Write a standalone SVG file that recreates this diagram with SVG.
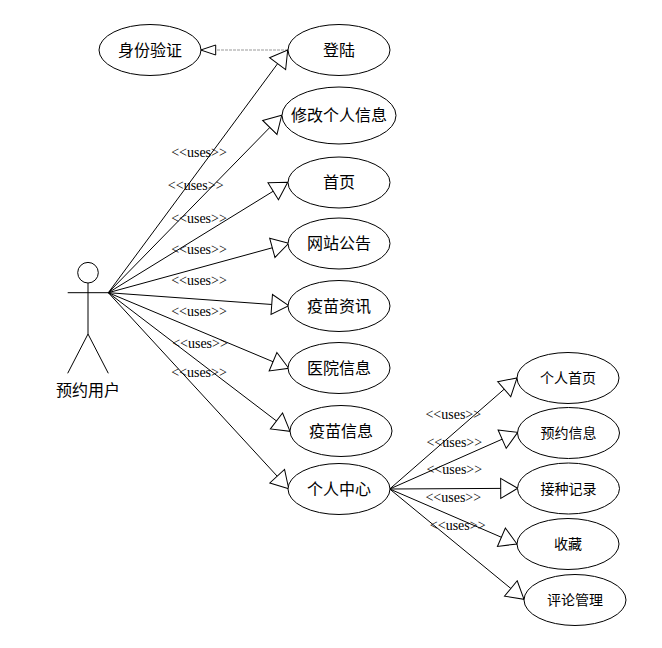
<svg xmlns="http://www.w3.org/2000/svg" width="662" height="648" viewBox="0 0 662 648">
<style>
.n ellipse,.n circle{fill:#fff;stroke:#000;stroke-width:1}
.n line{stroke:#000;stroke-width:1}
.n text{font-family:"Noto Sans CJK SC","Microsoft YaHei",sans-serif;font-size:16px;text-anchor:middle;fill:#000}
.n text.s{font-size:14px}
.c line{stroke:#000;stroke-width:1;fill:none;marker-end:url(#a)}
.c line.d{stroke:#999;stroke-dasharray:3 1;marker-end:url(#b)}
.c text{font-family:"Liberation Serif",serif;font-size:14px;text-anchor:middle;fill:#000}
</style>
<defs>
<marker id="a" markerUnits="userSpaceOnUse" markerWidth="20" markerHeight="24" viewBox="-1 -1 20 24" refX="17" refY="10" orient="auto"><path d="M0,0L17,10L0,20Z" fill="#fff" stroke="#000"/></marker>
<marker id="b" markerUnits="userSpaceOnUse" markerWidth="20" markerHeight="14" viewBox="-1 -1 20 14" refX="15" refY="5" orient="auto"><path d="M0,0L15,5L0,10Z" fill="#fff" stroke="#000"/></marker>
</defs>
<g id="connectors" class="c">
<line class="d" x1="288" y1="50" x2="200.7" y2="50"/>
<line x1="108.3" y1="292.7" x2="287.7" y2="50"/>
<line x1="108.3" y1="292.7" x2="281.7" y2="115.3"/>
<line x1="108.3" y1="292.7" x2="287.7" y2="182.3"/>
<line x1="108.3" y1="292.7" x2="288.7" y2="243.3"/>
<line x1="108.3" y1="292.7" x2="288.7" y2="305.7"/>
<line x1="108.3" y1="292.7" x2="288.7" y2="368.3"/>
<line x1="108.3" y1="292.7" x2="290" y2="431.3"/>
<line x1="108.3" y1="292.7" x2="288.7" y2="488.7"/>
<line x1="389.7" y1="489" x2="517" y2="378"/>
<line x1="389.7" y1="489" x2="517.7" y2="432.3"/>
<line x1="389.7" y1="489" x2="517.7" y2="488.3"/>
<line x1="389.7" y1="489" x2="517" y2="544"/>
<line x1="389.7" y1="489" x2="524" y2="599.3"/>
<text x="199" y="157">&lt;&lt;uses&gt;&gt;</text>
<text x="195.7" y="189.5">&lt;&lt;uses&gt;&gt;</text>
<text x="199" y="222.5">&lt;&lt;uses&gt;&gt;</text>
<text x="199" y="253.5">&lt;&lt;uses&gt;&gt;</text>
<text x="199" y="285">&lt;&lt;uses&gt;&gt;</text>
<text x="199" y="316">&lt;&lt;uses&gt;&gt;</text>
<text x="200" y="348">&lt;&lt;uses&gt;&gt;</text>
<text x="199" y="377">&lt;&lt;uses&gt;&gt;</text>
<text x="453.3" y="418.5">&lt;&lt;uses&gt;&gt;</text>
<text x="454.3" y="446.5">&lt;&lt;uses&gt;&gt;</text>
<text x="454.3" y="473.5">&lt;&lt;uses&gt;&gt;</text>
<text x="453.3" y="501.5">&lt;&lt;uses&gt;&gt;</text>
<text x="457.7" y="529.5">&lt;&lt;uses&gt;&gt;</text>
</g>
<g id="actor" class="n">
<circle cx="88" cy="272.7" r="10.3"/>
<line x1="67.7" y1="292.7" x2="108.3" y2="292.7"/>
<line x1="88" y1="283" x2="88" y2="334"/>
<line x1="88" y1="334" x2="67.7" y2="373.3"/>
<line x1="88" y1="334" x2="108.3" y2="373.3"/>
<text x="88" y="396">预约用户</text>
</g>
<g id="n-auth" class="n"><ellipse cx="150" cy="50" rx="51" ry="25.5"/><text x="150" y="56">身份验证</text></g>
<g id="n-login" class="n"><ellipse cx="339" cy="50" rx="51" ry="25.5"/><text x="339" y="56">登陆</text></g>
<g id="n-profile" class="n"><ellipse cx="339" cy="115.5" rx="57" ry="28.5"/><text x="339" y="121">修改个人信息</text></g>
<g id="n-home" class="n"><ellipse cx="339" cy="182.5" rx="51" ry="25.5"/><text x="339" y="188">首页</text></g>
<g id="n-notice" class="n"><ellipse cx="339" cy="243.5" rx="51" ry="25.5"/><text x="339" y="249">网站公告</text></g>
<g id="n-news" class="n"><ellipse cx="339" cy="306" rx="51" ry="25.5"/><text x="339" y="311.5">疫苗资讯</text></g>
<g id="n-hospital" class="n"><ellipse cx="339" cy="368" rx="51" ry="25.5"/><text x="339" y="374">医院信息</text></g>
<g id="n-vaccine" class="n"><ellipse cx="341" cy="431" rx="51" ry="25.5"/><text x="341" y="436.5">疫苗信息</text></g>
<g id="n-center" class="n"><ellipse cx="339" cy="489" rx="51" ry="25.5"/><text x="339" y="494.5">个人中心</text></g>
<g id="n-myhome" class="n"><ellipse cx="568" cy="378" rx="51" ry="25.5"/><text class="s" x="568" y="383">个人首页</text></g>
<g id="n-booking" class="n"><ellipse cx="568.5" cy="433" rx="51" ry="25.5"/><text class="s" x="568.5" y="438">预约信息</text></g>
<g id="n-record" class="n"><ellipse cx="568.5" cy="488.5" rx="51" ry="25.5"/><text class="s" x="568.5" y="493.5">接种记录</text></g>
<g id="n-fav" class="n"><ellipse cx="568" cy="544" rx="51" ry="25.5"/><text class="s" x="568" y="549">收藏</text></g>
<g id="n-comment" class="n"><ellipse cx="575" cy="600" rx="51" ry="25.5"/><text class="s" x="575" y="605">评论管理</text></g>
</svg>
